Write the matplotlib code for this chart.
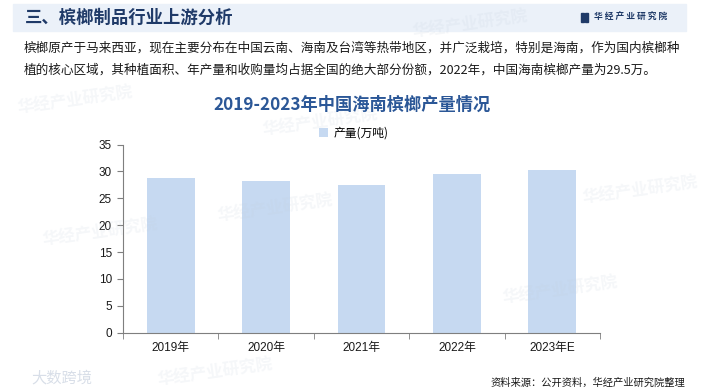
import matplotlib
matplotlib.use("Agg")
import matplotlib.pyplot as plt
from matplotlib.patches import Rectangle
from matplotlib.ticker import FixedLocator

plt.rcParams['font.family'] = ['Liberation Sans', 'Noto Sans CJK SC', 'DejaVu Sans']

# ---- data ----
categories = ["2019年", "2020年", "2021年", "2022年", "2023年E"]
production = [28.7, 28.3, 27.5, 29.5, 30.2]
y_ticks = [0, 5, 10, 15, 20, 25, 30, 35]
series_name = "产量(万吨)"

header_title = "三、槟榔制品行业上游分析"
brand = "华 经 产 业 研 究 院"
watermark = "华经产业研究院"
paragraph_1 = "槟榔原产于马来西亚，现在主要分布在中国云南、海南及台湾等热带地区，并广泛栽培，特别是海南，作为国内槟榔种"
paragraph_2 = "植的核心区域，其种植面积、年产量和收购量均占据全国的绝大部分份额，2022年，中国海南槟榔产量为29.5万。"
chart_title = "2019-2023年中国海南槟榔产量情况"
source = "资料来源：公开资料，华经产业研究院整理"

W, H = 703, 391
fig = plt.figure(figsize=(W / 100, H / 100), dpi=100)

def fx(x):
    return x / W

def fy(y):
    return 1 - y / H

# header band
fig.patches.append(Rectangle((fx(13), fy(31)), fx(686) - fx(13), fy(4) - fy(31),
                             transform=fig.transFigure, color="#EBF1F9", zorder=0))

# faint watermarks
wm = [(470, 24), (75, 100), (275, 208), (100, 232), (560, 290), (215, 372), (640, 190), (320, 122)]
for x, y in wm:
    fig.text(fx(x), fy(y), watermark, fontsize=12, fontweight="bold",
             color="#C3CDDB", alpha=0.16, rotation=8, ha="center", va="center",
             family=['Noto Sans CJK SC'], zorder=0)
fig.text(fx(62), fy(378), "大数跨境", fontsize=11, color="#A9B7CC", alpha=0.45,
         ha="center", va="center", family=['Noto Sans CJK SC'])

fig.text(fx(25), fy(17.5), header_title, fontsize=12.5, fontweight="bold",
         color="#1F3A68", ha="left", va="center", family=['Noto Sans CJK SC'])
fig.patches.append(Rectangle((fx(581), fy(21.5)), fx(2.5) - fx(0), fy(13.5) - fy(21.5),
                             transform=fig.transFigure, color="#1F3A68"))
fig.patches.append(Rectangle((fx(585), fy(21.5)), fx(2.5) - fx(0), fy(13.5) - fy(21.5),
                             transform=fig.transFigure, color="#1F3A68"))
fig.text(fx(594), fy(17.5), brand, fontsize=6.3, fontweight="bold",
         color="#1F3A68", ha="left", va="center", family=['Noto Sans CJK SC'])

fig.text(fx(24), fy(48), paragraph_1, fontsize=9.05, color="#1A1A1A",
         ha="left", va="center", family=['Noto Sans CJK SC', 'DejaVu Sans'])
fig.text(fx(24), fy(70), paragraph_2, fontsize=9.05, color="#1A1A1A",
         ha="left", va="center", family=['Noto Sans CJK SC', 'DejaVu Sans'])

fig.text(fx(352), fy(105), chart_title, fontsize=12.4, fontweight="bold",
         color="#2B5797", ha="center", va="center", family=['Noto Sans CJK SC'])

fig.text(fx(685), fy(383), source, fontsize=7.4, color="#1A1A1A",
         ha="right", va="center", family=['Noto Sans CJK SC'])

# axes
ax = fig.add_axes([fx(123), fy(332.7), fx(600) - fx(123), fy(144.5) - fy(332.7)])
ax.patch.set_alpha(0)
x = list(range(len(categories)))
bars = ax.bar(x, production, width=0.5, color="#C6D9F1", label=series_name, zorder=2)
ax.set_xlim(-0.5, len(categories) - 0.5)
ax.set_ylim(0, 35)
ax.set_yticks(y_ticks)
ax.set_xticks(x)
ax.set_xticklabels(categories, fontsize=8.5, color="#1A1A1A")
ax.tick_params(axis="x", which="major", length=0, pad=7)
ax.xaxis.set_minor_locator(FixedLocator([i - 0.5 for i in range(len(categories) + 1)]))
ax.tick_params(axis="x", which="minor", length=4, color="#7F7F7F", direction="out")
ax.tick_params(axis="y", length=4, color="#7F7F7F", labelsize=8.5, labelcolor="#1A1A1A", pad=4)
for s in ["top", "right"]:
    ax.spines[s].set_visible(False)
for s in ["left", "bottom"]:
    ax.spines[s].set_color("#7F7F7F")
    ax.spines[s].set_linewidth(0.8)

leg = ax.legend(loc="center", bbox_to_anchor=(fx(354), fy(133)), bbox_transform=fig.transFigure,
                frameon=False, handlelength=0.7, handleheight=0.7,
                handletextpad=0.5, prop={'family': ['Noto Sans CJK SC'], 'size': 8.5})

fig.savefig("out.png", dpi=100)
